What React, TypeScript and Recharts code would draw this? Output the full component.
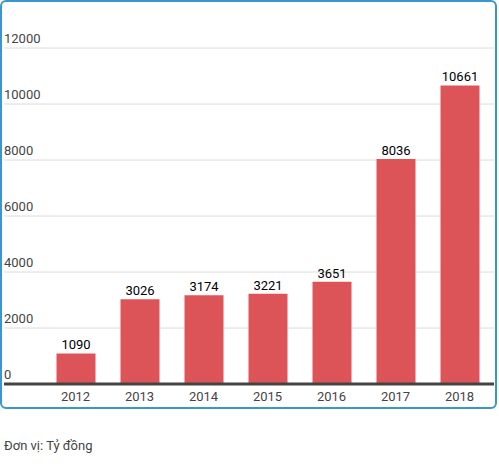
import { BarChart, Bar, XAxis, YAxis, CartesianGrid, LabelList } from 'recharts'

const YEARS = ['2012', '2013', '2014', '2015', '2016', '2017', '2018']
const REVENUE = [1090, 3026, 3174, 3221, 3651, 8036, 10661]
const Y_TICKS = [0, 2000, 4000, 6000, 8000, 10000, 12000]

const data = YEARS.map((year, i) => ({ year, value: REVENUE[i] }))

const FONT = 'Roboto, "Noto Sans", sans-serif'

function YTick({ y, payload }: any) {
  return (
    <text x={4} y={y - 8} fill="#444" fontSize={13} fontFamily={FONT} textAnchor="start" dominantBaseline="middle">
      {payload.value}
    </text>
  )
}

export default function App() {
  return (
    <div style={{ position: 'absolute', left: 0, top: 0, width: 499, height: 472, fontFamily: FONT }}>
      <div
        style={{
          position: 'absolute',
          left: 0,
          top: 0,
          width: 497,
          height: 409,
          boxSizing: 'border-box',
          border: '2px solid #3a96cc',
          borderRadius: 6,
        }}
      />
      <div style={{ position: 'absolute', left: 0, top: 0 }}>
        <BarChart
          width={499}
          height={409}
          data={data}
          margin={{ top: 48, right: 5, bottom: 0, left: 4 }}
        >
          <CartesianGrid vertical={false} stroke="#dcdcdc" strokeWidth={1} />
          <YAxis
            domain={[0, 12000]}
            ticks={Y_TICKS}
            mirror
            width={1}
            axisLine={false}
            tickLine={false}
            tick={(props: any) => <YTick {...props} />}
            interval={0}
          />
          <XAxis
            dataKey="year"
            height={25}
            padding={{ left: 39.5, right: 2.5 }}
            axisLine={{ stroke: '#444', strokeWidth: 3 }}
            tickLine={false}
            tick={{ fill: '#444', fontSize: 13, fontFamily: FONT }}
            interval={0}
          />
          <Bar dataKey="value" fill="#dd5458" barSize={39} isAnimationActive={false}>
            <LabelList
              dataKey="value"
              position="top"
              offset={4}
              fill="#000"
              fontSize={13}
              fontWeight={400}
              fontFamily={FONT}
            />
          </Bar>
        </BarChart>
      </div>
      <div style={{ position: 'absolute', left: 4, top: 438, fontSize: 13, color: '#444' }}>
        Đơn vị: Tỷ đồng
      </div>
    </div>
  )
}
